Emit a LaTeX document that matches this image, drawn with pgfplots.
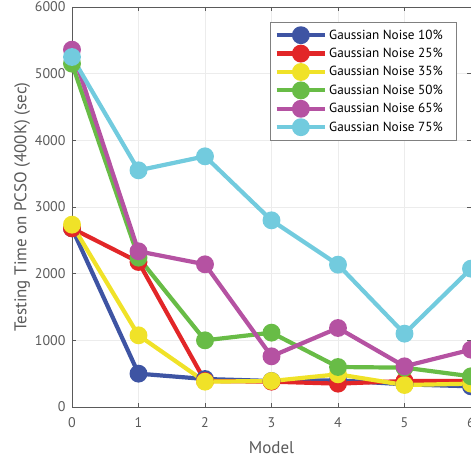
\documentclass[border=0pt]{standalone}
\usepackage{fontspec}
\setmainfont{PT Sans}
\usepackage{pgfplots}
\pgfplotsset{compat=1.18}
\definecolor{cblue}{RGB}{62,84,163}
\definecolor{cred}{RGB}{226,38,40}
\definecolor{cyel}{RGB}{240,226,40}
\definecolor{cgreen}{RGB}{104,188,70}
\definecolor{cpurp}{RGB}{181,82,162}
\definecolor{ccyan}{RGB}{114,203,222}
\definecolor{axgray}{RGB}{90,90,90}
\begin{document}
\begin{tikzpicture}
\begin{axis}[
  name=ax,
  scale only axis,
  width=399pt, height=400pt,
  xmin=0, xmax=6, ymin=0, ymax=6000,
  xtick={0,...,6}, ytick={0,1000,...,6000},
  tick align=inside,
  major tick length=4pt,
  axis line style={axgray, line width=0.8pt},
  every tick/.style={axgray, line width=0.6pt},
  grid=major,
  grid style={gray!15, line width=0.6pt},
  tick label style={font=\fontsize{14}{16}\selectfont, text=axgray},
  yticklabel style={xshift=-3pt},
  xticklabel style={yshift=-7pt},
  /pgf/number format/assume math mode=true,
  /pgf/number format/1000 sep={},
  scaled y ticks=false,
  xlabel={Model},
  ylabel={Testing Time on PCSO (400K) (sec)},
  label style={font=\fontsize{17}{19}\selectfont, text=axgray},
  xlabel style={yshift=-7pt},
  ylabel style={yshift=-2pt},
  every axis plot/.append style={line width=4.2pt, mark=*, mark size=6.8pt},
  legend style={at={(0.965,0.9625)}, anchor=north east, draw=gray, line width=0.6pt,
    font=\fontsize{13.2}{15}\selectfont, row sep=0.6pt, inner sep=4pt},
  legend cell align=left,
  legend image code/.code={
    \draw[#1, line width=4.2pt] (0cm,0cm) -- (1.7cm,0cm);
    \fill[#1] (0.85cm,0cm) circle (6.8pt);
  },
]
\addplot[cblue, mark options={fill=cblue}] coordinates {(0,2680) (1,500) (2,420) (3,390) (4,400) (5,340) (6,310)};
\addlegendentry{Gaussian Noise 10\%\hspace*{8pt}}
\addplot[cred, mark options={fill=cred}] coordinates {(0,2680) (1,2175) (2,390) (3,380) (4,350) (5,390) (6,390)};
\addlegendentry{Gaussian Noise 25\%}
\addplot[cyel, mark options={fill=cyel}] coordinates {(0,2735) (1,1075) (2,380) (3,390) (4,490) (5,330) (6,350)};
\addlegendentry{Gaussian Noise 35\%}
\addplot[cgreen, mark options={fill=cgreen}] coordinates {(0,5150) (1,2240) (2,1000) (3,1115) (4,600) (5,590) (6,460)};
\addlegendentry{Gaussian Noise 50\%}
\addplot[cpurp, mark options={fill=cpurp}] coordinates {(0,5360) (1,2335) (2,2140) (3,760) (4,1185) (5,610) (6,860)};
\addlegendentry{Gaussian Noise 65\%}
\addplot[ccyan, mark options={fill=ccyan}] coordinates {(0,5250) (1,3550) (2,3760) (3,2800) (4,2135) (5,1100) (6,2075)};
\addlegendentry{Gaussian Noise 75\%}
\end{axis}
\pgfresetboundingbox
\path[use as bounding box] ([xshift=-72pt,yshift=-54pt]ax.south west) rectangle ([yshift=7pt]ax.north east);
\end{tikzpicture}
\end{document}
